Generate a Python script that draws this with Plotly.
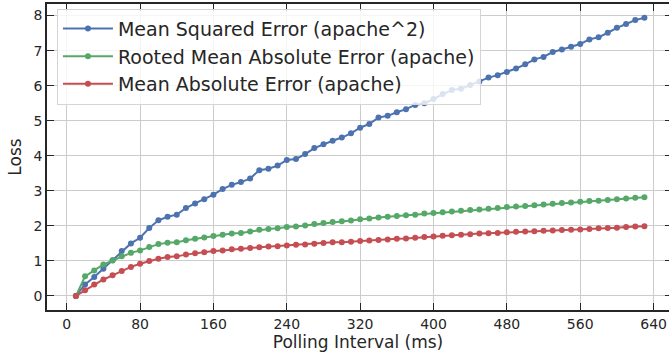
import plotly.graph_objs as go

# Polling interval (ms)
interval = list(range(10, 640, 10))

# Loss values
mse_apache2 = [0.00, 0.33, 0.54, 0.78, 1.02, 1.28, 1.50, 1.66, 1.94, 2.16,
               2.26, 2.32, 2.51, 2.64, 2.76, 2.89, 3.05, 3.17, 3.25, 3.35,
               3.59, 3.63, 3.72, 3.88, 3.91, 4.05, 4.22, 4.33, 4.43, 4.52,
               4.64, 4.80, 4.91, 5.09, 5.14, 5.24, 5.33, 5.45, 5.50, 5.62,
               5.76, 5.88, 5.91, 6.02, 6.12, 6.23, 6.30, 6.39, 6.49, 6.61,
               6.75, 6.82, 6.96, 7.03, 7.11, 7.19, 7.32, 7.38, 7.51, 7.65,
               7.76, 7.87, 7.94]
rmae_apache = [0.00, 0.56, 0.73, 0.90, 1.01, 1.13, 1.23, 1.30, 1.40, 1.48,
               1.52, 1.53, 1.59, 1.63, 1.67, 1.71, 1.75, 1.78, 1.80, 1.84,
               1.89, 1.91, 1.93, 1.97, 1.98, 2.01, 2.05, 2.08, 2.11, 2.13,
               2.15, 2.19, 2.21, 2.24, 2.26, 2.28, 2.30, 2.32, 2.35, 2.37,
               2.39, 2.41, 2.43, 2.45, 2.47, 2.49, 2.51, 2.54, 2.55, 2.57,
               2.59, 2.61, 2.63, 2.65, 2.67, 2.69, 2.71, 2.72, 2.74, 2.76,
               2.78, 2.80, 2.82]
mae_apache = [0.00, 0.16, 0.33, 0.47, 0.59, 0.71, 0.83, 0.92, 1.00, 1.06,
              1.11, 1.13, 1.18, 1.22, 1.25, 1.28, 1.30, 1.33, 1.35, 1.37,
              1.39, 1.41, 1.42, 1.44, 1.46, 1.47, 1.49, 1.51, 1.53, 1.53,
              1.55, 1.57, 1.58, 1.60, 1.61, 1.63, 1.64, 1.66, 1.68, 1.70,
              1.72, 1.73, 1.75, 1.76, 1.78, 1.79, 1.80, 1.82, 1.83, 1.84,
              1.85, 1.86, 1.87, 1.88, 1.89, 1.90, 1.91, 1.93, 1.94, 1.95,
              1.97, 1.98, 1.99]

series_names = ['Mean Squared Error (apache^2)',
                'Rooted Mean Absolute Error (apache)',
                'Mean Absolute Error (apache)']
x_ticks = [0, 80, 160, 240, 320, 400, 480, 560, 640]
y_ticks = [0, 1, 2, 3, 4, 5, 6, 7, 8]

colors = ['#4C72B0', '#55A868', '#C44E52']
ink = '#262626'

data = []
for name, vals, c in zip(series_names, [mse_apache2, rmae_apache, mae_apache], colors):
    data.append(go.Scatter(x=interval, y=vals, mode='lines+markers', name=name,
                           line=dict(color=c, width=2),
                           marker=dict(color=c, size=6)))

# empty trace so the right-hand tick marks get drawn
data.append(go.Scatter(x=[], y=[], yaxis='y2', showlegend=False, hoverinfo='skip'))

y_range = [-0.4, 8.33]

layout = go.Layout(
    width=669, height=356,
    margin=dict(l=47, r=0, t=4, b=46, autoexpand=False),
    paper_bgcolor='white', plot_bgcolor='white',
    font=dict(family='DejaVu Sans', size=14, color=ink),
    xaxis=dict(range=[-21.5, 656.8], tickvals=x_ticks, ticks='inside', ticklen=7,
               tickwidth=1.25, tickcolor=ink, showline=True, linecolor=ink,
               linewidth=1.5, mirror='ticks', showgrid=True, gridcolor='#cccccc',
               gridwidth=1, zeroline=False,
               title=dict(text='Polling Interval (ms)', standoff=4)),
    yaxis=dict(range=y_range, tickvals=y_ticks, ticks='inside', ticklen=7,
               tickwidth=1.25, tickcolor=ink, showline=True, linecolor=ink,
               linewidth=1.5, showgrid=True, gridcolor='#cccccc', gridwidth=1,
               zeroline=False, title=dict(text='Loss', standoff=8)),
    yaxis2=dict(range=y_range, tickvals=y_ticks, overlaying='y', side='right',
                ticks='inside', ticklen=4, tickwidth=1.25, tickcolor=ink,
                showticklabels=False, showgrid=False, showline=False,
                zeroline=False, automargin=False),
    legend=dict(x=0.016, y=0.985, xanchor='left', yanchor='top', itemwidth=50,
                bgcolor='rgba(255,255,255,0.8)', bordercolor='#d5d5d5',
                borderwidth=1, font=dict(size=19, color=ink)),
)

fig = go.Figure(data=data, layout=layout)
fig.write_html('out.html', config={'displayModeBar': False},
               post_script="document.body.style.margin='0';")
